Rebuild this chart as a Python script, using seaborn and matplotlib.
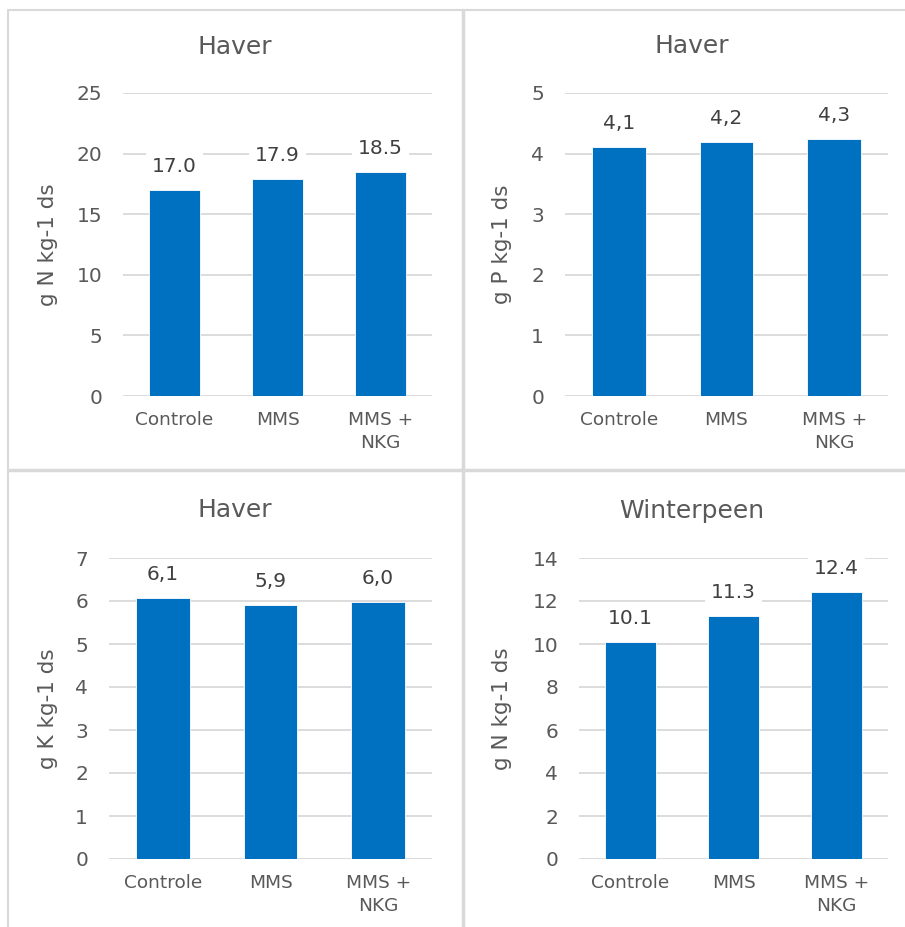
import matplotlib
matplotlib.use("Agg")
import matplotlib.pyplot as plt
import seaborn as sns
import pandas as pd
from matplotlib.lines import Line2D

W, H = 905, 927

categories = ["Controle", "MMS", "MMS +\nNKG"]

titles = ["Haver", "Haver", "Haver", "Winterpeen"]
ylabels = ["g N kg-1 ds", "g P kg-1 ds", "g K kg-1 ds", "g N kg-1 ds"]

n_haver = [17.0, 17.9, 18.5]
p_haver = [4.11, 4.19, 4.24]
k_haver = [6.06, 5.91, 5.97]
n_winterpeen = [10.1, 11.3, 12.4]

labels_n_haver = ["17.0", "17.9", "18.5"]
labels_p_haver = ["4,1", "4,2", "4,3"]
labels_k_haver = ["6,1", "5,9", "6,0"]
labels_n_winterpeen = ["10.1", "11.3", "12.4"]

ymax = [25, 5, 7, 14]
ystep = [5, 1, 1, 2]

BLUE = "#0070C0"
GRID = "#d9d9d9"
TEXT = "#595959"

sns.set_theme(style="white")
plt.rcParams["font.family"] = ["DejaVu Sans"]

fig = plt.figure(figsize=(W / 100, H / 100), dpi=100)

# plot-area rectangles in pixels: x0, x1, ytop, ybottom
rects = [(123, 432, 93, 396), (565, 888, 93, 396),
         (109, 432, 558, 859), (579, 888, 558, 859)]
title_pos = [(235, 47), (692, 46), (235, 510), (692, 511)]
ylabel_x = [58, 512, 58, 512]

series = [n_haver, p_haver, k_haver, n_winterpeen]
series_labels = [labels_n_haver, labels_p_haver, labels_k_haver, labels_n_winterpeen]

for i in range(4):
    x0, x1, yt, yb = rects[i]
    ax = fig.add_axes([x0 / W, (H - yb) / H, (x1 - x0) / W, (yb - yt) / H])
    df = pd.DataFrame({"cat": categories, "val": series[i]})
    sns.barplot(data=df, x="cat", y="val", color=BLUE, width=0.5, saturation=1,
                edgecolor="white", linewidth=0.6, ax=ax, zorder=2)
    ax.set_ylim(0, ymax[i])
    ax.set_yticks(range(0, ymax[i] + 1, ystep[i]))
    ax.set_xlim(-0.5, 2.5)
    ax.yaxis.grid(True, color=GRID, linewidth=1.3, zorder=0)
    ax.set_axisbelow(True)
    for s in ax.spines.values():
        s.set_visible(False)
    ax.tick_params(axis="y", length=0, pad=15, labelsize=14.5, labelcolor=TEXT)
    ax.tick_params(axis="x", length=0, pad=11, labelsize=13.3, labelcolor=TEXT)
    for lab in ax.get_xticklabels():
        lab.set_linespacing(1.35)
    ax.set_xlabel("")
    ax.set_ylabel(ylabels[i], fontsize=15.5, color=TEXT)
    ax.yaxis.set_label_coords(ylabel_x[i] / W, (H - (yt + yb) / 2) / H,
                              transform=fig.transFigure)
    for j, v in enumerate(series[i]):
        ax.annotate(series_labels[i][j], (j, v), xytext=(0, 17),
                    textcoords="offset points", ha="center", va="center",
                    fontsize=14.5, color="#404040", zorder=3,
                    bbox=dict(facecolor="white", edgecolor="none", pad=4))
    tx, ty = title_pos[i]
    fig.text(tx / W, 1 - ty / H, titles[i], ha="center", va="center",
             fontsize=18, color=TEXT)

# panel borders
def hline(y, x0, x1, lw):
    fig.add_artist(Line2D([x0 / W, x1 / W], [1 - y / H, 1 - y / H], color=GRID, lw=lw))

def vline(x, y0, y1, lw):
    fig.add_artist(Line2D([x / W, x / W], [1 - y0 / H, 1 - y1 / H], color=GRID, lw=lw))

hline(10, 8, W, 1.5)
hline(470, 8, W, 2.5)
vline(8, 10, H, 1.5)
vline(463, 10, H, 2.5)

fig.savefig("out.png", dpi=100, facecolor="white")
